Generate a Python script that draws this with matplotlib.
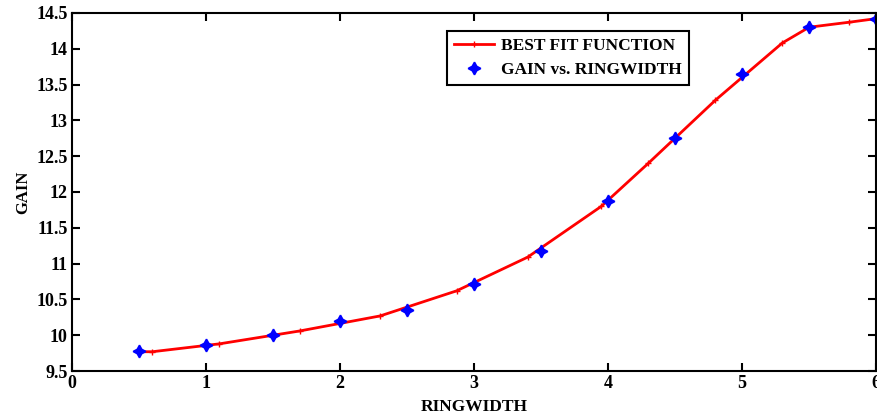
import matplotlib
matplotlib.use("Agg")
import matplotlib.pyplot as plt

# measured data
ring_x = [0.5, 1.0, 1.5, 2.0, 2.5, 3.0, 3.5, 4.0, 4.5, 5.0, 5.5, 6.0]
gain_y = [9.78, 9.87, 10.0, 10.2, 10.35, 10.72, 11.18, 11.88, 12.75, 13.65, 14.3, 14.42]

# best fit curve samples
fit_x = [0.5, 0.6, 1.1, 1.7, 2.3, 2.87, 3.4, 3.95, 4.3, 4.8, 5.3, 5.5, 5.8, 6.0]
fit_y = [9.77, 9.77, 9.88, 10.06, 10.27, 10.62, 11.09, 11.8, 12.4, 13.28, 14.08, 14.3, 14.37, 14.42]

xticks = [0, 1, 2, 3, 4, 5, 6]
yticks = [9.5, 10, 10.5, 11, 11.5, 12, 12.5, 13, 13.5, 14, 14.5]

plt.rcParams['font.family'] = ['Liberation Serif', 'DejaVu Serif']
plt.rcParams['font.weight'] = 'bold'

fig = plt.figure(figsize=(8.77, 4.16), dpi=100)
ax = fig.add_axes([0.082, 0.108, 0.917, 0.861])

ax.plot(fit_x, fit_y, color='red', lw=2.0, marker='+', ms=4, mew=1.0,
        label='BEST FIT FUNCTION')
ax.plot(ring_x, gain_y, linestyle='none', color='blue', marker=(4, 1, 0), ms=9, mew=1.2,
        label='GAIN vs. RINGWIDTH')

ax.set_xlim(0, 6)
ax.set_ylim(9.5, 14.5)
ax.set_xticks(xticks)
ax.set_xticklabels([str(v) for v in xticks])
ax.set_yticks(yticks)
ax.set_yticklabels([('%g' % v) for v in yticks])
ax.tick_params(direction='in', top=True, right=True, length=6, width=1.5,
               labelsize=13, pad=3)
for lab in ax.get_xticklabels() + ax.get_yticklabels():
    lab.set_fontweight('bold')
for s in ax.spines.values():
    s.set_linewidth(1.5)

ax.set_xlabel('RINGWIDTH', fontsize=12.5, fontweight='bold', labelpad=5)
ax.set_ylabel('GAIN', fontsize=12, fontweight='bold', labelpad=4)

leg = ax.legend(loc='upper left', bbox_to_anchor=(0.456, 0.975), fontsize=12.5,
                frameon=True, fancybox=False, edgecolor='black', framealpha=1,
                handlelength=2.3, handletextpad=0.4, borderpad=0.4, labelspacing=0.5)
leg.get_frame().set_linewidth(1.5)
for t in leg.get_texts():
    t.set_fontweight('bold')

fig.savefig('out.png', dpi=100)
